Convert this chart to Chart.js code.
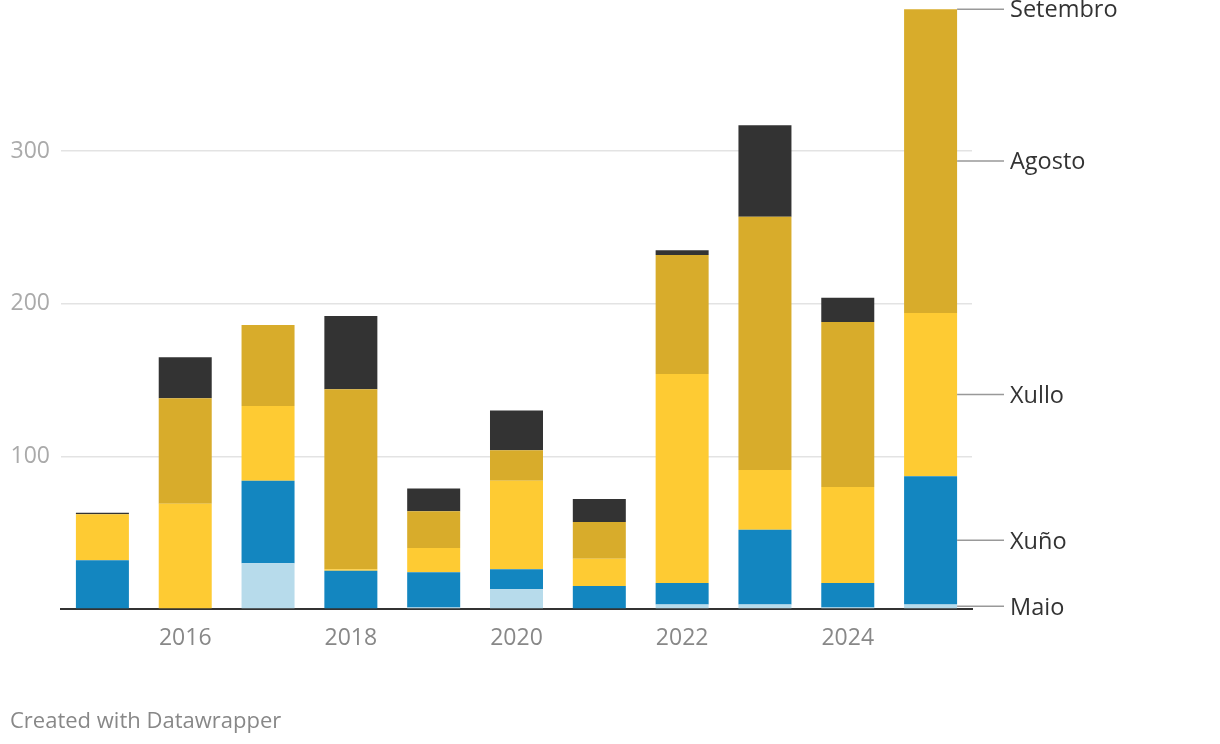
<!DOCTYPE html>
<html>
<head>
<meta charset="utf-8">
<script src="https://cdn.jsdelivr.net/npm/chart.js@4"></script>
<style>
  html, body { margin: 0; padding: 0; background: #fff; }
  #wrap { position: relative; width: 1220px; height: 744px; overflow: hidden; }
  #footer {
    position: absolute; left: 10px; top: 704px;
    font-family: "Open Sans", sans-serif; font-size: 22px; color: #888;
  }
</style>
</head>
<body>
<div id="wrap">
  <canvas id="chartMeses" width="1220" height="744"></canvas>
  <div id="footer">Created with Datawrapper</div>
</div>
<script>
const years = ['2015', '2016', '2017', '2018', '2019', '2020', '2021', '2022', '2023', '2024', '2025'];
const maio     = [0, 0, 30, 0, 1, 13, 0, 3, 3, 1, 3];
const xuno     = [32, 0, 54, 25, 23, 13, 15, 14, 49, 16, 84];
const xullo    = [30, 69, 49, 1, 16, 58, 18, 137, 39, 63, 107];
const agosto   = [0, 69, 53, 118, 24, 20, 24, 78, 166, 108, 199];
const setembro = [1, 27, 0, 48, 15, 26, 15, 3, 60, 16, 0];
const yTicks   = [0, 100, 200, 300];

const seriesNames  = ['Maio', 'Xuño', 'Xullo', 'Agosto', 'Setembro'];
const seriesValues = [maio, xuno, xullo, agosto, setembro];
const seriesColors = ['#b7dbeb', '#1386c0', '#fecb33', '#d8ac2b', '#333333'];

const FONT = '"Open Sans", sans-serif';

// etiquetas a la derecha, a media altura de cada tramo de la última barra
const rightLabelsPlugin = {
    id: 'rightLabels',
    afterDatasetsDraw(chart) {
        const ctx = chart.ctx;
        const last = years.length - 1;
        ctx.save();
        chart.data.datasets.forEach((ds, i) => {
            const bar = chart.getDatasetMeta(i).data[last];
            const y = (bar.y + bar.base) / 2;
            const x0 = bar.x + bar.width / 2;
            ctx.strokeStyle = '#999';
            ctx.lineWidth = 1.5;
            ctx.beginPath();
            ctx.moveTo(x0, y);
            ctx.lineTo(1004, y);
            ctx.stroke();
            ctx.fillStyle = '#333';
            ctx.font = '23.5px ' + FONT;
            ctx.textAlign = 'left';
            ctx.textBaseline = 'middle';
            ctx.fillText(ds.label, 1010, y + 1.5);
        });
        ctx.restore();
    }
};

const datasets = seriesNames.map((name, i) => ({
    label: name,
    data: seriesValues[i],
    backgroundColor: seriesColors[i],
    borderWidth: 0,
    barPercentage: 0.64,
    categoryPercentage: 1
}));

new Chart(document.getElementById('chartMeses').getContext('2d'), {
    type: 'bar',
    data: { labels: years, datasets: datasets },
    options: {
        responsive: false,
        animation: false,
        layout: { padding: { top: 0, right: 248, left: 0, bottom: 0 } },
        plugins: {
            legend: { display: false },
            tooltip: { enabled: false }
        },
        scales: {
            x: {
                stacked: true,
                grid: { display: false },
                border: { display: true, color: '#333', width: 2 },
                ticks: {
                    autoSkip: false,
                    maxRotation: 0,
                    padding: 8,
                    color: '#888',
                    font: { family: FONT, size: 23 },
                    callback: function(value, index) {
                        const y = years[index];
                        return Number(y) % 2 === 0 ? y : '';
                    }
                },
                afterFit: function(scale) { scale.height = 135; }
            },
            y: {
                stacked: true,
                min: 0,
                max: 399,
                border: { display: false },
                grid: {
                    drawTicks: false,
                    lineWidth: 1.5,
                    color: ctx => (ctx.tick && ctx.tick.value === 0) ? 'rgba(0,0,0,0)' : '#e3e3e3'
                },
                afterBuildTicks: function(scale) {
                    scale.ticks = yTicks.map(v => ({ value: v }));
                },
                ticks: {
                    padding: 11,
                    color: '#aaa',
                    font: { family: FONT, size: 23 },
                    callback: function(value) { return value === 0 ? '' : value; }
                },
                afterFit: function(scale) {
                    scale.width = 61;
                    scale.paddingTop = 0;
                    scale.paddingBottom = 0;
                }
            }
        }
    },
    plugins: [rightLabelsPlugin]
});
</script>
</body>
</html>
